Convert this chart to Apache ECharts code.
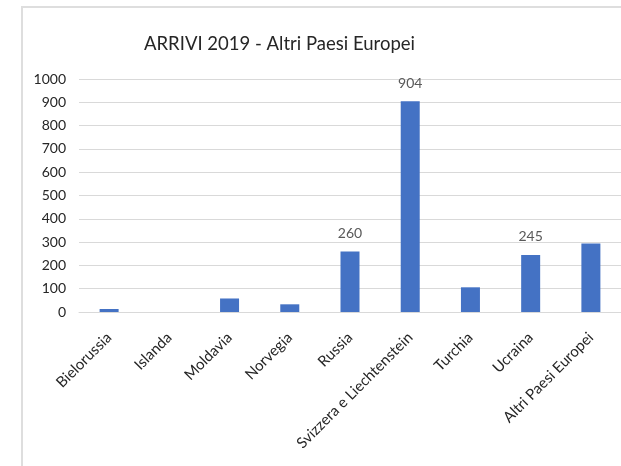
<!DOCTYPE html>
<html>
<head>
<meta charset="utf-8">
<script src="https://cdn.jsdelivr.net/npm/echarts@6/dist/echarts.min.js"></script>
<style>
  html, body { margin: 0; padding: 0; background: #ffffff; overflow: hidden; }
  #frame { position: absolute; left: 21px; top: 6px; width: 700px; height: 600px;
           border-left: 2px solid #dedede; border-top: 2px solid #dedede; }
  #chart { position: absolute; left: 0; top: 0; width: 621px; height: 466px; }
</style>
</head>
<body>
<div id="frame"></div>
<div id="chart"></div>
<script>
const titleText = "ARRIVI 2019 - Altri Paesi Europei";
const categories = ["Bielorussia", "Islanda", "Moldavia", "Norvegia", "Russia",
  "Svizzera e Liechtenstein", "Turchia", "Ucraina", "Altri Paesi Europei"];
const arrivals = [13, 0, 58, 33, 260, 904, 106, 245, 294];
const labelledCategories = ["Russia", "Svizzera e Liechtenstein", "Ucraina"];
const yTicks = { min: 0, max: 1000, interval: 100 };

const FONT = 'Lato, "Noto Sans", sans-serif';
const chart = echarts.init(document.getElementById('chart'), null, { renderer: 'canvas' });

const seriesData = arrivals.map((v, i) => ({
  value: v,
  label: { show: labelledCategories.indexOf(categories[i]) >= 0 }
}));

chart.setOption({
  backgroundColor: 'transparent',
  animation: false,
  title: {
    text: titleText,
    left: 139,
    top: 30,
    textStyle: { fontFamily: FONT, fontSize: 18.5, fontWeight: 'normal', color: '#262626' }
  },
  grid: { left: 79, right: -1, top: 79, bottom: 154, containLabel: false },
  xAxis: {
    type: 'category',
    data: categories,
    axisLine: { show: true, lineStyle: { color: '#d9d9d9', width: 1 } },
    axisTick: { show: false },
    axisLabel: {
      interval: 0, rotate: 45, margin: 23,
      fontFamily: FONT, fontSize: 15, color: '#262626'
    }
  },
  yAxis: {
    type: 'value',
    min: yTicks.min, max: yTicks.max, interval: yTicks.interval,
    axisLine: { show: false },
    axisTick: { show: false },
    splitLine: { lineStyle: { color: '#d9d9d9', width: 1 } },
    axisLabel: { margin: 13, fontFamily: FONT, fontSize: 14, color: '#262626',
                 formatter: v => String(v) }
  },
  series: [{
    type: 'bar',
    data: seriesData,
    barWidth: 19,
    itemStyle: { color: '#4472C4' },
    label: {
      position: 'top', distance: 11,
      fontFamily: FONT, fontSize: 14, color: '#595959'
    }
  }]
});
</script>
</body>
</html>
